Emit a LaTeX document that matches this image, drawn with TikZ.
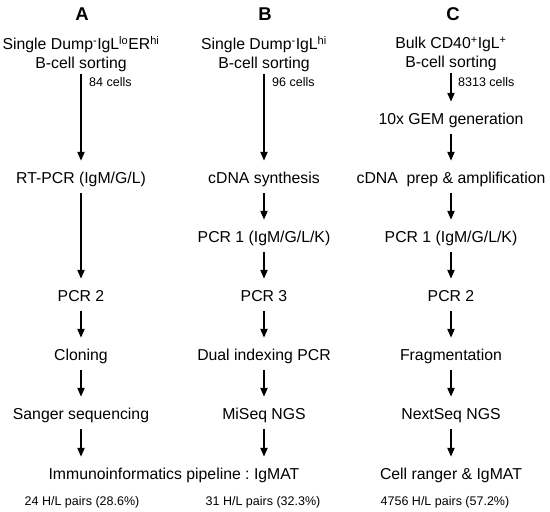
\documentclass[tikz,border=0pt]{standalone}
\usepackage{fontspec}
\setmainfont{Liberation Sans}
\usetikzlibrary{arrows.meta}
\frenchspacing

\begin{document}
\begin{tikzpicture}[x=1pt, y=-1pt,
      every node/.style={font=\fontsize{15.8}{19}\selectfont, inner sep=0pt},
      stepnode/.style={text height=11.5pt, text depth=3.5pt},
      smalltext/.style={font=\fontsize{12.5}{14}\selectfont},
      titletext/.style={font=\fontsize{18.5}{20}\selectfont\bfseries},
      flow/.style={-{Triangle[width=7pt,length=9pt]}, line width=2pt,
                   shorten <=6.5pt, shorten >=10.5pt}]
    \useasboundingbox (0,0) rectangle (550,512);
    % column titles
    \node[titletext] (titleA) at (82,14) {A};
    \node[titletext] (titleB) at (265,14) {B};
    \node[titletext] (titleC) at (453,14) {C};
    % sorting
    \node[align=center] (sortA) at (81,54)
          {Single Dump\textsuperscript{-}IgL\textsuperscript{lo}ER\textsuperscript{hi}\\B-cell sorting};
    \node[align=center] (sortB) at (264,54)
          {Single Dump\textsuperscript{-}IgL\textsuperscript{hi}\\B-cell sorting};
    \node[align=center] (sortC) at (451,54)
          {Bulk CD40\textsuperscript{+}IgL\textsuperscript{+}\\B-cell sorting};
    \node[smalltext, anchor=west] (cellsA) at (89,82) {84 cells};
    \node[smalltext, anchor=west] (cellsB) at (272,82) {96 cells};
    \node[smalltext, anchor=west] (cellsC) at (458,82) {8313 cells};
    % column A
    \node[stepnode] (rtA) at (81,179) {RT-PCR (IgM/G/L)};
    \node[stepnode] (pcrA2) at (81,297) {PCR 2};
    \node[stepnode] (cloneA) at (81,356) {Cloning};
    \node[stepnode] (sangerA) at (81,415) {Sanger sequencing};
    % column B
    \node[stepnode] (cdnaB) at (264,179) {cDNA synthesis};
    \node[stepnode] (pcrB1) at (264,238) {PCR 1 (IgM/G/L/K)};
    \node[stepnode] (pcrB3) at (264,297) {PCR 3};
    \node[stepnode] (dualB) at (264,356) {Dual indexing PCR};
    \node[stepnode] (miseqB) at (264,415) {MiSeq NGS};
    \node[stepnode] (pipeAB) at (174,475) {Immunoinformatics pipeline : IgMAT};
    % column C
    \node[stepnode] (gemC) at (451,120) {10x GEM generation};
    \node[stepnode] (prepC) at (451,179) {cDNA\ \ prep \& amplification};
    \node[stepnode] (pcrC1) at (451,238) {PCR 1 (IgM/G/L/K)};
    \node[stepnode] (pcrC2) at (451,297) {PCR 2};
    \node[stepnode] (fragC) at (451,356) {Fragmentation};
    \node[stepnode] (nextC) at (451,415) {NextSeq NGS};
    \node[stepnode] (rangerC) at (451,475) {Cell ranger \& IgMAT};
    % pairs
    \node[smalltext] (pairsA) at (82,502) {24 H/L pairs (28.6\%)};
    \node[smalltext] (pairsB) at (263,502) {31 H/L pairs (32.3\%)};
    \node[smalltext] (pairsC) at (445,502) {4756 H/L pairs (57.2\%)};
    % arrows
    \draw[flow, shorten <=2pt] (sortA) -- (rtA);
    \draw[flow] (rtA) -- (pcrA2);
    \draw[flow] (pcrA2) -- (cloneA);
    \draw[flow] (cloneA) -- (sangerA);
    \draw[flow] (sangerA) -- (sangerA |- pipeAB.north);
    \draw[flow, shorten <=2pt] (sortB) -- (cdnaB);
    \draw[flow] (cdnaB) -- (pcrB1);
    \draw[flow] (pcrB1) -- (pcrB3);
    \draw[flow] (pcrB3) -- (dualB);
    \draw[flow] (dualB) -- (miseqB);
    \draw[flow] (miseqB) -- (miseqB |- pipeAB.north);
    \draw[flow, shorten <=2pt] (sortC) -- (gemC);
    \draw[flow] (gemC) -- (prepC);
    \draw[flow] (prepC) -- (pcrC1);
    \draw[flow] (pcrC1) -- (pcrC2);
    \draw[flow] (pcrC2) -- (fragC);
    \draw[flow] (fragC) -- (nextC);
    \draw[flow] (nextC) -- (rangerC);
  \end{tikzpicture}
\end{document}
